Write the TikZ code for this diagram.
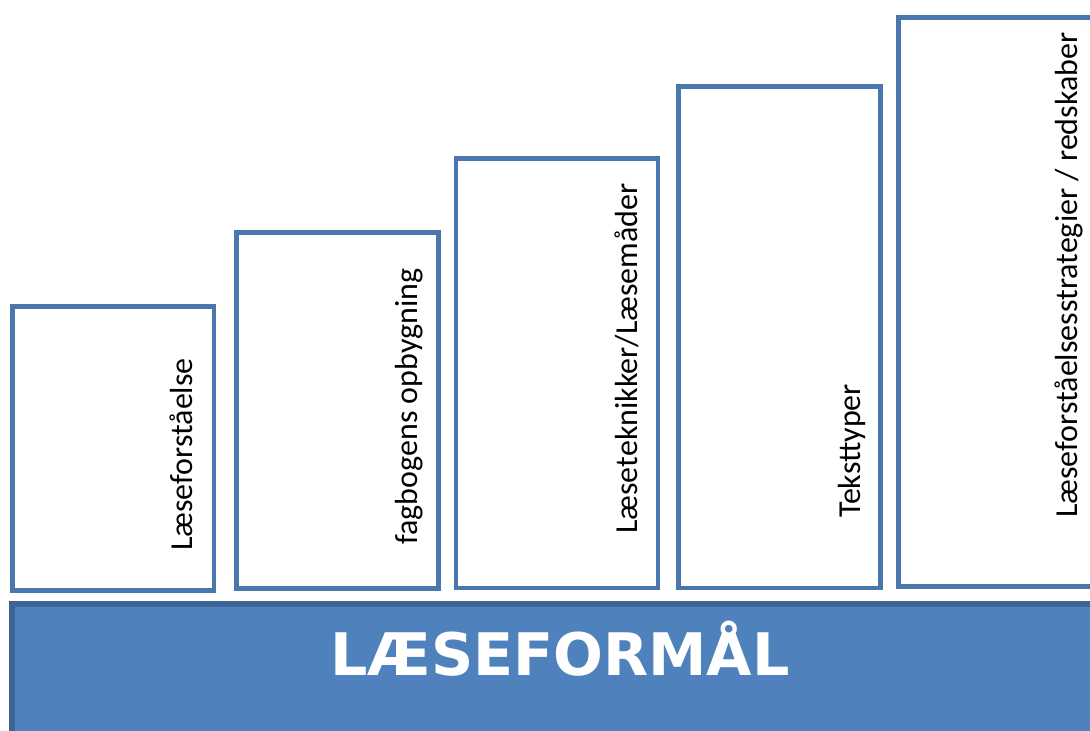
\documentclass[tikz,border=0pt]{standalone}
\usepackage{fontspec}
\setmainfont{Carlito}
\newfontfamily\barfont{DejaVu Sans}
\definecolor{trinblaa}{HTML}{4A76AE}
\definecolor{bundblaa}{HTML}{4F81BD}
\definecolor{kantblaa}{HTML}{3C6596}

\begin{document}
\begin{tikzpicture}[x=0.75pt,y=-0.75pt]
\tikzstyle{every node}+=[inner sep=0pt]
\tikzstyle{trin}=[draw=trinblaa, line width=3.4pt, fill=white]
\tikzstyle{trintekst}=[rotate=90, anchor=base west, font=\fontsize{24}{29}\selectfont]
\clip (0,0) rectangle (1090,731);
\fill [white] (0,0) rectangle (1090,731);
\draw [fill=bundblaa, draw=kantblaa, line width=3.8pt] (12,604) rectangle (1110,750);
\node [font=\barfont\bfseries\fontsize{44}{50}\selectfont, text=white, anchor=base] (formaal) at (560,675) {LÆSEFORMÅL};
\draw [trin] (12.5,306.5) rectangle (214,590.5);
\node [trintekst] (t1) at (192,551) {Læseforståelse};
\draw [trin] (236.5,232.5) rectangle (438.5,588.5);
\node [trintekst] (t2) at (417,545) {fagbogens opbygning};
\draw [trin] (456,158.5) rectangle (658,588);
\node [trintekst] (t3) at (637,534) {Læseteknikker/Læsemåder};
\draw [trin] (678.5,86.5) rectangle (880.5,588);
\node [trintekst] (t4) at (860,518) {Teksttyper};
\draw [trin] (898.5,17.5) rectangle (1110,586.5);
\node [trintekst] (t5) at (1077,518) {Læseforståelsesstrategier / redskaber};
\end{tikzpicture}
\end{document}
